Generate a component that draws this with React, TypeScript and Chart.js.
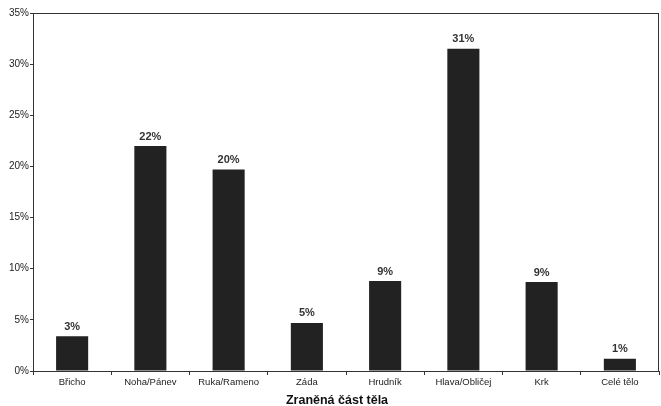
import React, { useEffect, useRef } from "react";
import { Chart, registerables } from "chart.js";

Chart.register(...registerables);

const categories = ["Břicho", "Noha/Pánev", "Ruka/Rameno", "Záda", "Hrudník", "Hlava/Obličej", "Krk", "Celé tělo"];
const values = [3.4, 22.0, 19.7, 4.7, 8.8, 31.5, 8.7, 1.2];
const valueLabels = ["3%", "22%", "20%", "5%", "9%", "31%", "9%", "1%"];
const yTicks = [0, 5, 10, 15, 20, 25, 30, 35];
const xTitle = "Zraněná část těla";

const FONT = "'Liberation Sans', Arial, sans-serif";

const framePlugin = {
  id: "frame",
  afterDraw(chart: any) {
    const { ctx, chartArea } = chart;
    ctx.save();
    ctx.strokeStyle = "#333";
    ctx.lineWidth = 1;
    ctx.strokeRect(chartArea.left + 0.5, chartArea.top + 0.5, chartArea.right - chartArea.left - 1, chartArea.bottom - chartArea.top);
    ctx.restore();
  },
};

const labelPlugin = {
  id: "valueLabels",
  afterDatasetsDraw(chart: any) {
    const { ctx } = chart;
    const meta = chart.getDatasetMeta(0);
    ctx.save();
    ctx.fillStyle = "#333";
    ctx.font = `bold 11px ${FONT}`;
    ctx.textAlign = "center";
    ctx.textBaseline = "bottom";
    meta.data.forEach((bar: any, i: number) => {
      ctx.fillText(valueLabels[i], bar.x, bar.y - 4);
    });
    ctx.restore();
  },
};

const titlePlugin = {
  id: "xTitle",
  afterDraw(chart: any) {
    const { ctx, chartArea } = chart;
    ctx.save();
    ctx.fillStyle = "#111";
    ctx.font = `bold 12.5px ${FONT}`;
    ctx.textAlign = "center";
    ctx.textBaseline = "middle";
    const cx = (chartArea.left + chartArea.right) / 2 - 9;
    ctx.fillText(xTitle, cx, chartArea.bottom + 30);
    ctx.restore();
  },
};

export default function App() {
  const ref = useRef<HTMLCanvasElement>(null);
  useEffect(() => {
    if (!ref.current) return;
    const chart = new Chart(ref.current, {
      type: "bar",
      data: {
        labels: categories,
        datasets: [
          {
            data: values,
            backgroundColor: "#222",
            borderWidth: 0,
            barPercentage: 0.41,
            categoryPercentage: 1,
          },
        ],
      },
      options: {
        animation: false,
        responsive: false,
        maintainAspectRatio: false,
        layout: { padding: { top: 13, right: 2, left: 0, bottom: 0 } },
        plugins: { legend: { display: false }, tooltip: { enabled: false } },
        scales: {
          x: {
            offset: true,
            grid: { display: true, offset: true, drawOnChartArea: false, drawTicks: true, tickLength: 4, color: "#333" },
            border: { display: true, color: "#333" },
            ticks: { color: "#222", font: { family: FONT, size: 9.5 }, maxRotation: 0, autoSkip: false, padding: 2 },
            afterFit(scale: any) {
              scale.height = 35;
            },
          },
          y: {
            min: 0,
            max: 35,
            afterBuildTicks(scale: any) {
              scale.ticks = yTicks.map((v) => ({ value: v }));
            },
            grid: { display: true, drawOnChartArea: false, drawTicks: true, tickLength: 3, color: "#333" },
            border: { display: true, color: "#333" },
            ticks: { color: "#222", font: { family: FONT, size: 10 }, padding: 1, callback: (v: any) => `${v}%` },
            afterFit(scale: any) {
              scale.width = 33;
            },
          },
        },
      },
      plugins: [framePlugin, labelPlugin, titlePlugin],
    });
    return () => chart.destroy();
  }, []);
  return (
    <div style={{ position: "fixed", left: 0, top: 0, width: 661, height: 406, background: "#fff" }}>
      <canvas ref={ref} width={661} height={406} style={{ display: "block" }} />
    </div>
  );
}
